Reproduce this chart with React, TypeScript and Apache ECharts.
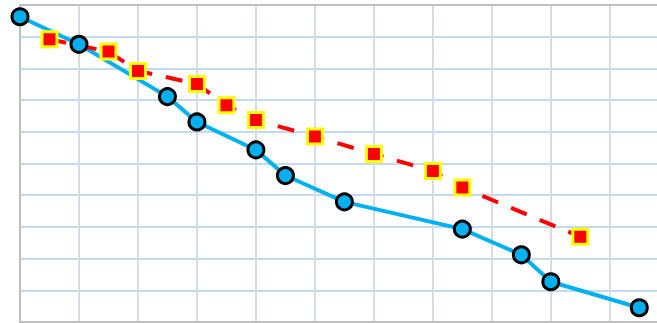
import React, { useEffect, useRef } from "react";
import * as echarts from "echarts";

// Blue series: [x, y] points
const blueX = [0, 1, 2.5, 3, 4, 4.5, 5.5, 7.5, 8.5, 9, 10.5];
const blueY = [9.63, 8.76, 7.11, 6.31, 5.43, 4.62, 3.79, 2.93, 2.12, 1.27, 0.45];

// Red dashed series: [x, y] points
const redX = [0.5, 1.5, 2, 3, 3.5, 4, 5, 6, 7, 7.5, 9.5];
const redY = [8.92, 8.53, 7.92, 7.51, 6.84, 6.37, 5.85, 5.3, 4.76, 4.24, 2.69];

const pairs = (xs: number[], ys: number[]) => xs.map((x, i) => [x, ys[i]]);

const frameLine = { show: true, lineStyle: { color: "#bfbfbf", width: 2 } };

export default function App() {
  const ref = useRef<HTMLDivElement>(null);

  useEffect(() => {
    if (!ref.current) return;
    const chart = echarts.init(ref.current, null, { renderer: "svg" });
    const blue = pairs(blueX, blueY);
    const red = pairs(redX, redY);

    chart.setOption({
      animation: false,
      backgroundColor: "#ffffff",
      grid: { left: 20, right: 0, top: 5, bottom: 1 },
      xAxis: [
        {
          type: "value",
          min: 0,
          max: 10.8,
          interval: 1,
          axisLine: { ...frameLine, onZero: false },
          axisTick: { show: false },
          axisLabel: { show: false },
          splitLine: {
            show: true,
            showMinLine: false,
            showMaxLine: false,
            lineStyle: { color: "#d6dce5", width: 2 },
          },
        },
        {
          type: "value",
          position: "top",
          min: 0,
          max: 10.8,
          interval: 1,
          axisLine: { ...frameLine, onZero: false },
          axisTick: { show: false },
          axisLabel: { show: false },
          splitLine: { show: false },
        },
      ],
      yAxis: {
        type: "value",
        min: 0,
        max: 10,
        interval: 1,
        axisLine: { ...frameLine, onZero: false },
        axisTick: { show: false },
        axisLabel: { show: false },
        splitLine: {
          show: true,
          showMinLine: false,
          showMaxLine: false,
          lineStyle: { color: "#c2d9ef", width: 2 },
        },
      },
      series: [
        {
          type: "line",
          data: blue,
          showSymbol: false,
          symbol: "none",
          lineStyle: { color: "#00b0f0", width: 4 },
          z: 2,
        },
        {
          type: "line",
          data: red,
          showSymbol: false,
          symbol: "none",
          lineStyle: { color: "#ff0000", width: 4, type: [17, 14] },
          z: 3,
        },
        {
          type: "scatter",
          data: red,
          symbol: "rect",
          symbolSize: 15,
          itemStyle: { color: "#ff0000", borderColor: "#ffff00", borderWidth: 3, opacity: 1 },
          z: 4,
        },
        {
          type: "scatter",
          data: blue,
          symbol: "circle",
          symbolSize: 16,
          itemStyle: { color: "#00b0f0", borderColor: "#000000", borderWidth: 3, opacity: 1 },
          z: 5,
        },
      ],
    });

    return () => chart.dispose();
  }, []);

  return (
    <div
      ref={ref}
      style={{ position: "absolute", left: 0, top: 0, width: 657, height: 323, background: "#ffffff" }}
    />
  );
}
